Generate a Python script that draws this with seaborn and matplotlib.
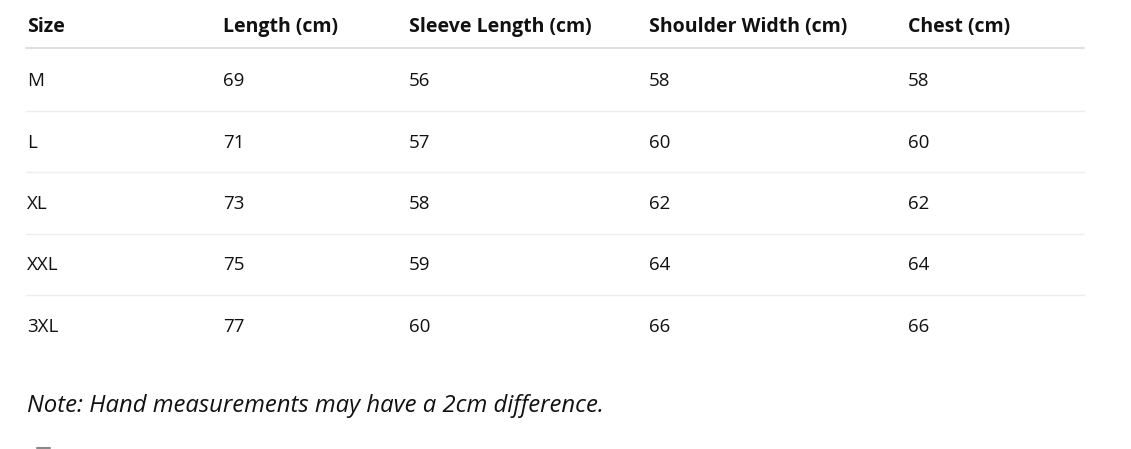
import matplotlib.pyplot as plt
import seaborn as sns

# size chart data
headers = ["Size", "Length (cm)", "Sleeve Length (cm)", "Shoulder Width (cm)", "Chest (cm)"]
sizes = ["M", "L", "XL", "XXL", "3XL"]
length = [69, 71, 73, 75, 77]
sleeve = [56, 57, 58, 59, 60]
shoulder = [58, 60, 62, 64, 66]
chest = [58, 60, 62, 64, 66]
note = "Note: Hand measurements may have a 2cm difference."

sns.set_theme(style="white")
plt.rcParams["font.family"] = ["Open Sans", "DejaVu Sans"]

W, H = 1131, 449
fig = plt.figure(figsize=(W / 100, H / 100), dpi=100)
ax = fig.add_axes([0, 0, 1, 1])
ax.set_xlim(0, W)
ax.set_ylim(H, 0)
ax.axis("off")

col_x = [27, 223, 409, 649, 908]
header_y = 27
row_y0, row_h = 81, 61.5
line_x0, line_x1 = 26, 1084

for x, h in zip(col_x, headers):
    ax.text(x, header_y, h, fontsize=14, fontweight="bold", color="#111111",
            va="center", ha="left")
ax.plot([line_x0, line_x1], [48, 48], color="#d8d8d8", lw=1.2)

columns = [sizes, length, sleeve, shoulder, chest]
for i in range(len(sizes)):
    y = row_y0 + i * row_h
    for x, col in zip(col_x, columns):
        ax.text(x, y, str(col[i]), fontsize=13.5, color="#111111",
                va="center", ha="left")
    if i < len(sizes) - 1:
        ly = y - 1 + row_h / 2
        ax.plot([line_x0, line_x1], [ly, ly], color="#eeeeee", lw=1.0)

ax.text(27, 406, note, fontsize=17.2, fontstyle="italic", color="#111111",
        va="center", ha="left")

# cut-off icon edge at the bottom
ax.plot([37, 50], [448, 448], color="#8a8a8a", lw=1.5, solid_capstyle="round")

fig.savefig("out.png", dpi=100, facecolor="white")
